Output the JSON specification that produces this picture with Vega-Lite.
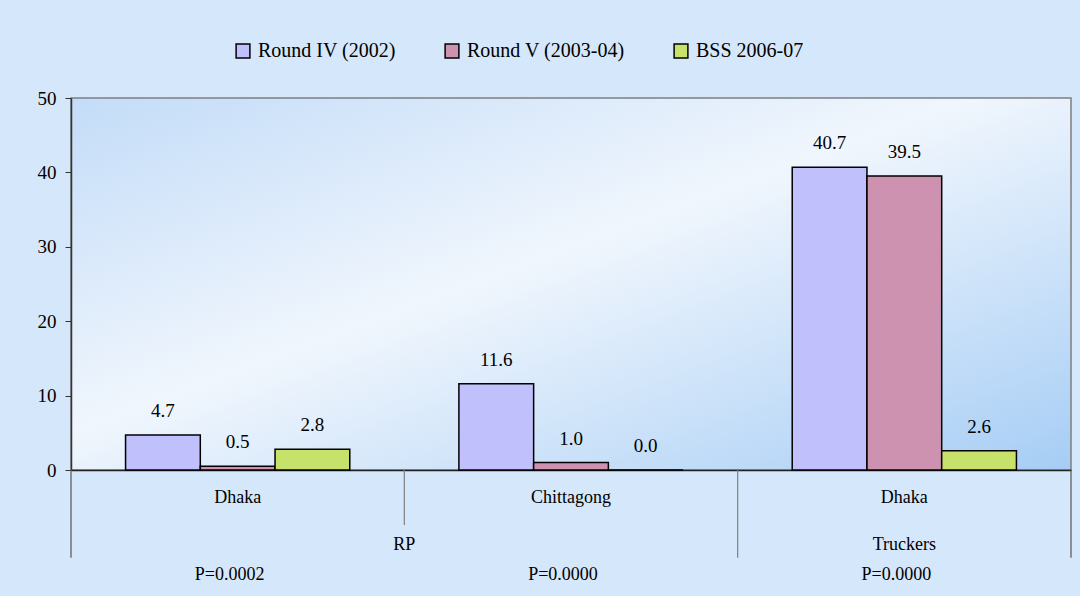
{
  "$schema": "https://vega.github.io/schema/vega-lite/v6.json",
  "width": 1000,
  "height": 372,
  "autosize": {"type": "none"},
  "padding": {"left": 71, "top": 98, "right": 9, "bottom": 126},
  "background": "#d5e7fa",
  "config": {
    "font": "Liberation Serif",
    "view": {
      "stroke": "#7f7f7f",
      "strokeWidth": 1.5,
      "fill": {
        "gradient": "linear",
        "x1": 0, "y1": 0, "x2": 1, "y2": 1,
        "stops": [
          {"offset": 0, "color": "#c3dcf8"},
          {"offset": 0.45, "color": "#f0f6fd"},
          {"offset": 1, "color": "#a6cdf5"}
        ]
      }
    }
  },
  "layer": [
    {
      "data": {
        "values": [
          {"group": "RP-Dhaka", "series": "Round IV (2002)", "value": 4.7},
          {"group": "RP-Dhaka", "series": "Round V (2003-04)", "value": 0.5},
          {"group": "RP-Dhaka", "series": "BSS 2006-07", "value": 2.8},
          {"group": "RP-Chittagong", "series": "Round IV (2002)", "value": 11.6},
          {"group": "RP-Chittagong", "series": "Round V (2003-04)", "value": 1.0},
          {"group": "RP-Chittagong", "series": "BSS 2006-07", "value": 0.0},
          {"group": "Truckers-Dhaka", "series": "Round IV (2002)", "value": 40.7},
          {"group": "Truckers-Dhaka", "series": "Round V (2003-04)", "value": 39.5},
          {"group": "Truckers-Dhaka", "series": "BSS 2006-07", "value": 2.6}
        ]
      },
      "layer": [
        {
          "mark": {"type": "bar", "stroke": "#000000", "strokeWidth": 1.5},
          "encoding": {
            "x": {
              "field": "group",
              "type": "nominal",
              "sort": null,
              "scale": {"paddingInner": 0, "paddingOuter": 0},
              "axis": {
                "title": null,
                "ticks": false,
                "domainColor": "#222222",
                "domainWidth": 1.5,
                "labelAngle": 0,
                "labelFontSize": 18,
                "labelColor": "#000000",
                "labelPadding": 18,
                "labelExpr": "datum.value == 'RP-Chittagong' ? 'Chittagong' : 'Dhaka'"
              }
            },
            "y": {
              "field": "value",
              "type": "quantitative",
              "scale": {"domain": [0, 50], "nice": false},
              "axis": {
                "title": null,
                "values": [0, 10, 20, 30, 40, 50],
                "grid": false,
                "domainColor": "#333333",
                "domainWidth": 1.5,
                "tickColor": "#333333",
                "tickSize": 6,
                "labelFontSize": 19,
                "labelColor": "#000000",
                "labelPadding": 9
              }
            },
            "xOffset": {
              "field": "series",
              "type": "nominal",
              "sort": null,
              "scale": {"paddingInner": 0, "paddingOuter": 0.73}
            },
            "color": {
              "field": "series",
              "type": "nominal",
              "sort": null,
              "scale": {
                "domain": ["Round IV (2002)", "Round V (2003-04)", "BSS 2006-07"],
                "range": ["#c0c0fc", "#cc92b0", "#c6e26a"]
              },
              "legend": {
                "title": null,
                "orient": "none",
                "direction": "horizontal",
                "legendX": 162,
                "legendY": -57,
                "padding": 0,
                "symbolType": "square",
                "symbolSize": 190,
                "symbolStrokeColor": "#000000",
                "symbolStrokeWidth": 1.5,
                "symbolOpacity": 1,
                "labelFontSize": 20,
                "labelColor": "#000000",
                "labelOffset": 5,
                "columnPadding": 46
              }
            }
          }
        },
        {
          "mark": {"type": "text", "fontSize": 19, "dy": -24, "baseline": "middle", "color": "#000000"},
          "encoding": {
            "x": {"field": "group", "type": "nominal", "sort": null},
            "y": {"field": "value", "type": "quantitative"},
            "xOffset": {"field": "series", "type": "nominal", "sort": null},
            "text": {"field": "value", "type": "quantitative", "format": ".1f"}
          }
        }
      ]
    },
    {
      "data": {
        "values": [
          {"group": "RP-Dhaka", "p": "P=0.0002"},
          {"group": "RP-Chittagong", "p": "P=0.0000"},
          {"group": "Truckers-Dhaka", "p": "P=0.0000"}
        ]
      },
      "mark": {"type": "text", "fontSize": 18, "baseline": "middle", "color": "#000000", "dx": -8},
      "encoding": {
        "x": {"field": "group", "type": "nominal", "sort": null},
        "y": {"datum": -14.1},
        "text": {"field": "p", "type": "nominal"}
      }
    },
    {
      "data": {"values": [{"label": "RP"}]},
      "mark": {"type": "text", "fontSize": 18, "baseline": "middle", "color": "#000000"},
      "encoding": {
        "x": {"datum": "RP-Chittagong", "bandPosition": 0},
        "y": {"datum": -10.1},
        "text": {"field": "label", "type": "nominal"}
      }
    },
    {
      "data": {"values": [{"label": "Truckers"}]},
      "mark": {"type": "text", "fontSize": 18, "baseline": "middle", "color": "#000000"},
      "encoding": {
        "x": {"datum": "Truckers-Dhaka", "bandPosition": 0.5},
        "y": {"datum": -10.1},
        "text": {"field": "label", "type": "nominal"}
      }
    },
    {
      "data": {"values": [{"edge": "RP-Chittagong"}]},
      "mark": {"type": "rule", "color": "#7f7f7f", "strokeWidth": 1.2},
      "encoding": {
        "x": {"datum": "RP-Chittagong", "bandPosition": 0},
        "y": {"datum": 0},
        "y2": {"datum": -7.4}
      }
    },
    {
      "data": {"values": [{"edge": "RP-Dhaka"}]},
      "mark": {"type": "rule", "color": "#555555", "strokeWidth": 1.2},
      "encoding": {
        "x": {"datum": "RP-Dhaka", "bandPosition": 0},
        "y": {"datum": 0},
        "y2": {"datum": -11.8}
      }
    },
    {
      "data": {"values": [{"edge": "Truckers-Dhaka"}]},
      "mark": {"type": "rule", "color": "#7f7f7f", "strokeWidth": 1.2},
      "encoding": {
        "x": {"datum": "Truckers-Dhaka", "bandPosition": 0},
        "y": {"datum": 0},
        "y2": {"datum": -11.8}
      }
    },
    {
      "data": {"values": [{"edge": "Truckers-Dhaka end"}]},
      "mark": {"type": "rule", "color": "#555555", "strokeWidth": 1.2},
      "encoding": {
        "x": {"datum": "Truckers-Dhaka", "bandPosition": 1},
        "y": {"datum": 0},
        "y2": {"datum": -11.8}
      }
    }
  ]
}
